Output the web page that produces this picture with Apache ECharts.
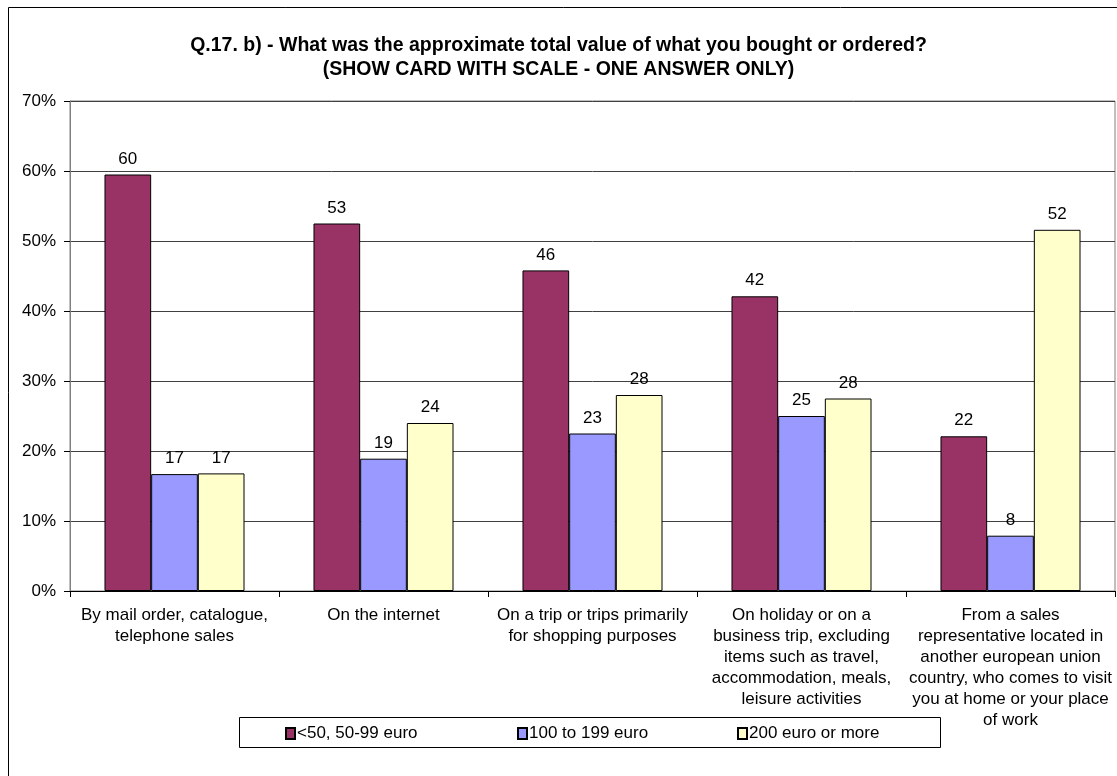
<!DOCTYPE html>
<html>
<head>
<meta charset="utf-8">
<script src="https://cdn.jsdelivr.net/npm/echarts@6/dist/echarts.min.js"></script>
<style>html,body{margin:0;padding:0;background:#fff}#c{width:1117px;height:776px}</style>
</head>
<body>
<div id="c"></div>
<script>
var categories = [
  "By mail order, catalogue,\ntelephone sales",
  "On the internet",
  "On a trip or trips primarily\nfor shopping purposes",
  "On holiday or on a\nbusiness trip, excluding\nitems such as travel,\naccommodation, meals,\nleisure activities",
  "From a sales\nrepresentative located in\nanother european union\ncountry, who comes to visit\nyou at home or your place\nof work"
];
var seriesNames = ["<50, 50-99 euro", "100 to 199 euro", "200 euro or more"];
var lowValues = [59.5, 52.5, 45.8, 42.1, 22.1];
var midValues = [16.7, 18.9, 22.5, 25.0, 7.9];
var highValues = [16.8, 24.0, 28.0, 27.5, 51.6];
var yTicks = [0, 10, 20, 30, 40, 50, 60, 70];
var colors = ["#993366", "#9999FF", "#FFFFCC"];

var font = "Liberation Sans, Arial, sans-serif";
var chart = echarts.init(document.getElementById('c'));
function mk(name, data, color) {
  return {
    name: name, type: 'bar', data: data, barGap: '0%', barCategoryGap: '33%',
    itemStyle: { color: color, borderColor: '#000', borderWidth: 1 },
    label: { show: true, position: 'top', distance: 7, color: '#000', fontFamily: font, fontSize: 17,
      formatter: function (p) { return Math.round(p.value); } }
  };
}
function lg(i, left) {
  return {
    left: left, top: 725, padding: 0, itemWidth: 9, itemHeight: 11, icon: 'rect',
    textStyle: { fontFamily: font, fontSize: 17, color: '#000', padding: [0, 0, 0, -3] },
    data: [seriesNames[i]]
  };
}
chart.setOption({
  animation: false,
  backgroundColor: '#fff',
  title: {
    text: 'Q.17. b) - What was the approximate total value of what you bought or ordered?\n(SHOW CARD WITH SCALE - ONE ANSWER ONLY)',
    left: 'center', top: 29,
    textStyle: { fontFamily: font, fontSize: 19.5, fontWeight: 'bold', color: '#000', lineHeight: 24 }
  },
  graphic: [
    { type: 'rect', shape: { x: 8.5, y: 7.5, width: 1200, height: 900 }, style: { fill: 'none', stroke: '#000', lineWidth: 1 }, silent: true, z: -10 },
    { type: 'rect', shape: { x: 239.5, y: 717.5, width: 701, height: 30 }, style: { fill: '#fff', stroke: '#000', lineWidth: 1 }, silent: true, z: -5 }
  ],
  grid: { left: 70, right: 2, top: 101, bottom: 185, show: true, borderColor: '#808080', borderWidth: 1, backgroundColor: 'transparent' },
  legend: [lg(0, 285), lg(1, 517), lg(2, 737)],
  xAxis: {
    type: 'category', data: categories,
    axisLine: { lineStyle: { color: '#000', width: 1 } },
    axisTick: { show: true, alignWithLabel: false, length: 6, lineStyle: { color: '#000' } },
    axisLabel: { interval: 0, fontFamily: font, fontSize: 17, color: '#000', lineHeight: 21, margin: 14 }
  },
  yAxis: {
    type: 'value', min: 0, max: 70, interval: 10,
    axisLine: { show: true, lineStyle: { color: '#808080' } },
    axisTick: { show: true, length: 6, lineStyle: { color: '#000' } },
    splitLine: { lineStyle: { color: '#404040', width: 1 } },
    axisLabel: { fontFamily: font, fontSize: 17, color: '#000', margin: 14,
      formatter: function (v) { return yTicks.indexOf(v) >= 0 ? v + '%' : ''; } }
  },
  series: [mk(seriesNames[0], lowValues, colors[0]), mk(seriesNames[1], midValues, colors[1]), mk(seriesNames[2], highValues, colors[2])]
});
</script>
</body>
</html>
